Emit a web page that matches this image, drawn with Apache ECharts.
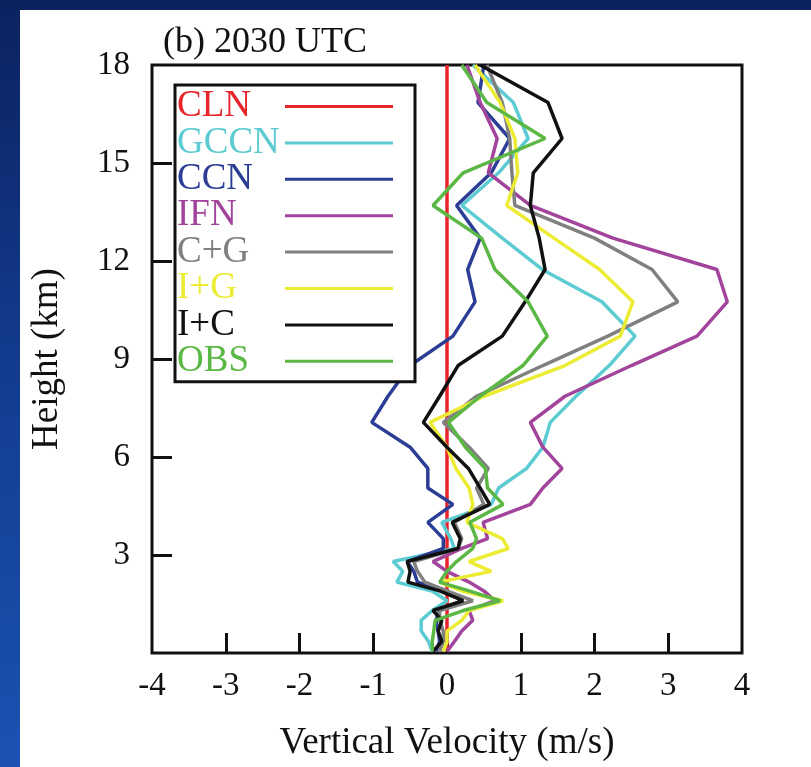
<!doctype html>
<html>
<head>
    <meta charset="UTF-8">
    <title>2030 UTC</title>
    <script src="https://cdn.jsdelivr.net/npm/echarts@6/dist/echarts.min.js"></script>
    <style>
        html, body { margin: 0; padding: 0; }
        .page {
            position: relative; width: 811px; height: 767px; overflow: hidden;
            background: linear-gradient(180deg, #0b2260 0%, #123a8c 45%, #1b52b4 100%);
        }
        .paper { position: absolute; left: 20px; top: 10px; right: 0; bottom: 0; background: #fff; }
        #main { position: absolute; left: 0; top: 0; width: 811px; height: 767px; }
    </style>
</head>
<body>
<div class="page">
    <div class="paper"></div>
    <div id="main"></div>
</div>
<script>
    // 高度层 (km)
    var heights = [18, 16.85, 15.75, 14.7, 13.7, 12.7, 11.74, 10.75, 9.7, 8.8, 7.86, 7.06, 6.3, 5.65, 5.05,
                   4.55, 4.0, 3.5, 3.2, 2.8, 2.5, 2.17, 1.9, 1.6, 1.3, 1.0, 0.67, 0.35, 0.05];

    // 垂直速度 (m/s)
    var cln  = [0, 0, 0, 0, 0, 0, 0, 0, 0, 0, 0, 0, 0, 0, 0, 0, 0, 0, 0, 0, 0, 0, 0, 0, 0, 0, 0, 0, 0];
    var gccn = [0.35, 0.9, 1.1, 0.7, 0.2, 0.75, 1.29, 2.1, 2.55, 2.2, 1.75, 1.4, 1.3, 1.08, 0.7,
                0.6, -0.07, 0.05, 0.1, -0.73, -0.6, -0.68, -0.2, 0.0, -0.2, -0.35, -0.35, -0.25, -0.2];
    var ccn  = [0.5, 0.42, 0.85, 0.6, 0.13, 0.45, 0.28, 0.38, 0.08, -0.5, -0.8, -1.02, -0.5, -0.26, -0.26,
                0.08, -0.26, -0.05, -0.05, -0.54, -0.45, -0.4, 0.0, 0.2, -0.1, -0.15, -0.12, -0.1, -0.15];
    var ifn  = [0.27, 0.45, 0.68, 0.56, 1.13, 2.25, 3.66, 3.8, 3.39, 2.5, 1.6, 1.13, 1.3, 1.56, 1.3,
                1.13, 0.49, 0.55, 0.2, -0.19, 0.0, 0.3, 0.5, 0.65, 0.3, 0.35, 0.2, 0.1, 0.0];
    var cg   = [0.54, 0.75, 0.85, 0.88, 0.92, 2.0, 2.78, 3.13, 2.18, 1.3, 0.4, -0.05, 0.3, 0.56, 0.4,
                0.5, 0.1, 0.2, 0.15, -0.45, -0.4, -0.3, 0.0, 0.35, -0.1, -0.1, -0.05, -0.05, -0.1];
    var ig   = [0.38, 0.72, 0.92, 0.96, 0.81, 1.45, 2.07, 2.52, 2.35, 1.6, 0.5, -0.23, 0.0, 0.12, 0.3,
                0.35, 0.27, 0.75, 0.83, 0.3, 0.6, -0.1, 0.2, 0.76, 0.3, 0.2, 0.0, 0.0, -0.05];
    var ic   = [0.45, 1.37, 1.56, 1.17, 1.13, 1.25, 1.33, 1.06, 0.75, 0.15, -0.1, -0.32, 0.0, 0.29, 0.45,
                0.58, 0.07, 0.18, 0.15, -0.54, -0.5, -0.53, -0.1, 0.22, -0.19, -0.07, -0.12, -0.07, -0.19];
    var obs  = [0.2, 0.54, 1.33, 0.22, -0.19, 0.47, 0.65, 1.1, 1.36, 1.03, 0.45, 0.02, 0.25, 0.52, 0.55,
                0.76, 0.31, 0.4, 0.35, 0.13, 0.0, -0.1, 0.3, 0.72, 0.22, -0.16, -0.18, -0.2, -0.2];

    var names  = ['CLN', 'GCCN', 'CCN', 'IFN', 'C+G', 'I+G', 'I+C', 'OBS'];
    var values = [cln, gccn, ccn, ifn, cg, ig, ic, obs];
    var colors = ['#e8252b', '#5ccbd2', '#2c3d96', '#a2449b', '#808080', '#ecec35', '#111111', '#5cb845'];

    var xTicks = [-3, -2, -1, 0, 1, 2, 3];
    var yTicks = [3, 6, 9, 12, 15];
    var yLabels = [3, 6, 9, 12, 15, 18];

    var font = 'Liberation Serif';

    var series = names.map(function (n, i) {
        return {
            name: n,
            type: 'line',
            symbol: 'none',
            color: colors[i],
            lineStyle: { width: 3.5, color: colors[i] },
            data: values[i].map(function (v, k) { return [v, heights[k]]; })
        };
    });

    var myChart = echarts.init(document.getElementById('main'));
    var option = {
        backgroundColor: 'transparent',
        animation: false,
        title: {
            text: '(b) 2030 UTC',
            left: 158,
            top: 20,
            textStyle: { fontFamily: font, fontSize: 36, fontWeight: 'normal', color: '#111' }
        },
        grid: {
            left: 152, right: 69, top: 65, bottom: 113,
            show: true, borderColor: '#111', borderWidth: 3
        },
        legend: {
            orient: 'vertical',
            left: 175, top: 85,
            align: 'right',
            padding: [3, 22, 2, 2],
            itemGap: -0.6,
            itemWidth: 108,
            itemHeight: 3,
            icon: 'rect',
            backgroundColor: '#fff',
            borderColor: '#111',
            borderWidth: 3,
            borderRadius: 0,
            formatter: '{a|{name}}',
            textStyle: {
                fontFamily: font, fontSize: 37,
                rich: { a: { width: 103, align: 'left', fontFamily: font, fontSize: 37 } }
            },
            data: names.map(function (n, i) {
                return { name: n, textStyle: { color: colors[i] } };
            })
        },
        xAxis: {
            type: 'value',
            min: -4, max: 4, interval: 1,
            name: 'Vertical Velocity (m/s)',
            nameLocation: 'middle',
            nameGap: 72,
            nameTextStyle: { fontFamily: font, fontSize: 37, color: '#111' },
            axisLine: { show: false, onZero: false },
            axisTick: { show: true, inside: true, length: 20, customValues: xTicks, lineStyle: { color: '#111', width: 3 } },
            axisLabel: { margin: 17, fontFamily: font, fontSize: 33, color: '#111' },
            splitLine: { show: false }
        },
        yAxis: {
            type: 'value',
            min: 0, max: 18, interval: 3,
            name: 'Height (km)',
            nameLocation: 'middle',
            nameGap: 86,
            nameTextStyle: { fontFamily: font, fontSize: 37, color: '#111' },
            axisLine: { show: false, onZero: false },
            axisTick: { show: true, inside: true, length: 20, customValues: yTicks, lineStyle: { color: '#111', width: 3 } },
            axisLabel: { margin: 22, fontFamily: font, fontSize: 33, color: '#111', customValues: yLabels },
            splitLine: { show: false }
        },
        series: series
    };
    myChart.setOption(option, true);
</script>
</body>
</html>
